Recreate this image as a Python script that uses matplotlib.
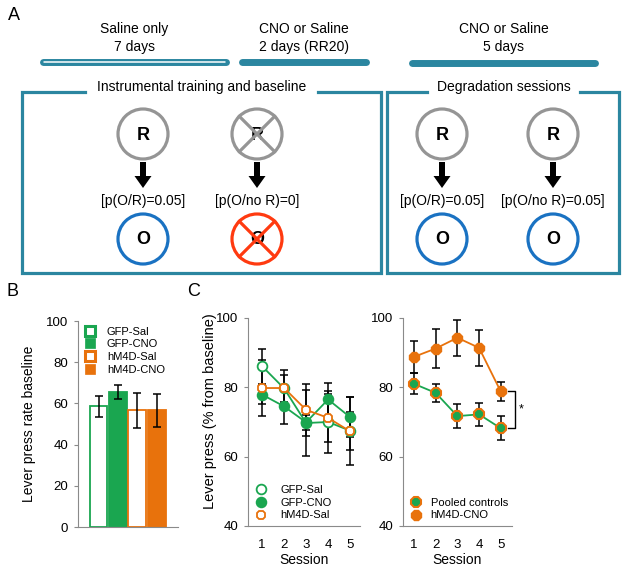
import matplotlib
matplotlib.use('Agg')
import matplotlib.pyplot as plt
from matplotlib.patches import Circle
from matplotlib.lines import Line2D

plt.rcParams['font.family'] = ['Liberation Sans', 'DejaVu Sans']

W, H = 629, 573

GREEN  = "#1aa650"
ORANGE = "#e8720c"
TEAL   = "#2b86a0"
BLUE   = "#1a72c2"
RED    = "#ff3a10"
GRAY   = "#959595"
AXCOL  = "#8a8a8a"

# panel B
bar_groups = ["GFP-Sal", "GFP-CNO", "hM4D-Sal", "hM4D-CNO"]
bar_means  = [58.5, 65.5, 56.6, 56.6]
bar_sem    = [5.0, 3.5, 8.3, 8.0]

# panel C
sessions     = [1, 2, 3, 4, 5]
gfp_sal      = [86.1, 79.7, 69.7, 70.0, 67.5]
gfp_sal_err  = [5.1, 4.0, 9.6, 9.0, 5.5]
gfp_cno      = [77.9, 74.5, 69.9, 76.5, 71.4]
gfp_cno_err  = [2.8, 5.0, 2.2, 4.8, 5.8]
hm4d_sal     = [79.8, 79.8, 73.5, 71.2, 67.3]
hm4d_sal_err = [8.0, 5.3, 7.4, 7.0, 9.8]

pooled       = [81.0, 78.4, 71.7, 72.2, 68.2]
pooled_err   = [3.0, 2.5, 3.4, 3.4, 3.5]
hm4d_cno     = [88.8, 91.2, 94.3, 91.4, 78.8]
hm4d_cno_err = [4.7, 5.5, 5.2, 5.2, 2.7]


def px_axes(fig, x0, y0, x1, y1):
    return fig.add_axes([x0 / W, 1 - y1 / H, (x1 - x0) / W, (y1 - y0) / H])


def style_axis(ax):
    for s in ("top", "right"):
        ax.spines[s].set_visible(False)
    for s in ("left", "bottom"):
        ax.spines[s].set_color(AXCOL)
        ax.spines[s].set_linewidth(0.8)
    ax.tick_params(axis="y", length=3, width=0.8, color=AXCOL, labelsize=9.5, pad=4)
    ax.tick_params(axis="x", length=0, labelsize=9.5, pad=9)


def draw_schematic(ax):
    ax.set_xlim(0, W)
    ax.set_ylim(H, 0)
    ax.axis("off")

    ax.text(14, 15, "A", fontsize=13, ha="center", va="center")
    ax.text(12, 292, "B", fontsize=13, ha="center", va="center")
    ax.text(194, 292, "C", fontsize=13, ha="center", va="center")

    # timeline bars
    for (x0, x1, y), lines in zip(
            [(40, 229, 62), (239, 369, 62), (409, 598, 63)],
            [("Saline only", "7 days"), ("CNO or Saline", "2 days (RR20)"),
             ("CNO or Saline", "5 days")]):
        ax.plot([x0 + 3, x1 - 3], [y, y], color=TEAL, lw=5, solid_capstyle="round")
        xc = (x0 + x1) / 2
        ax.text(xc, 29, lines[0], fontsize=10, ha="center", va="center")
        ax.text(xc, 47, lines[1], fontsize=10, ha="center", va="center")
    ax.plot([44, 225], [62, 62], color="white", lw=1.1, solid_capstyle="round")

    # boxes
    for (l, r, t, b, g0, g1, title) in [
            (22, 381, 92, 273, 85, 318, "Instrumental training and baseline"),
            (387, 619, 92, 273, 427, 580, "Degradation sessions")]:
        ax.plot([g0, l, l, r, r, g1], [t, t, b, b, t, t], color=TEAL, lw=2.3,
                solid_joinstyle="miter")
        ax.text((g0 + g1) / 2, 87, title, fontsize=10, ha="center", va="center")

    def node(x, y, letter, col, cross=None):
        ax.text(x, y + 1, letter, fontsize=13, fontweight="bold", ha="center",
                va="center", zorder=2)
        ax.add_patch(Circle((x, y), 25, fill=False, ec=col, lw=2.3, zorder=3))
        if cross:
            d = 25 * 0.7071
            ax.plot([x - d, x + d], [y - d, y + d], color=cross, lw=2.3, zorder=4)
            ax.plot([x - d, x + d], [y + d, y - d], color=cross, lw=2.3, zorder=4)

    def arrow(x):
        ax.arrow(x, 162, 0, 26, width=6, head_width=17, head_length=12,
                 length_includes_head=True, color="black", lw=0)

    for x, rlab, cross_r, cross_o, prob in [
            (143, "R", None, None, "[p(O/R)=0.05]"),
            (257, "R", GRAY, RED, "[p(O/no R)=0]"),
            (442, "R", None, None, "[p(O/R)=0.05]"),
            (553, "R", None, None, "[p(O/no R)=0.05]")]:
        node(x, 134, rlab, GRAY, cross_r)
        node(x, 239, "O", RED if cross_o else BLUE, cross_o)
        arrow(x)
        ax.text(x, 201, prob, fontsize=10, ha="center", va="center")


def draw_bars(fig):
    ax = px_axes(fig, 78, 321, 178, 527)
    style_axis(ax)
    pos = range(len(bar_groups))
    faces = ["white", GREEN, "white", ORANGE]
    edges = [GREEN, GREEN, ORANGE, ORANGE]
    ax.bar(pos, bar_means, width=0.93, color=faces, edgecolor=edges, linewidth=1.3)
    ax.errorbar(pos, bar_means, yerr=bar_sem, fmt="none", ecolor="black",
                elinewidth=1.1, capsize=3, capthick=1.1)
    ax.set_xlim(-1.06, 4.11)
    ax.set_ylim(0, 100)
    ax.set_yticks([0, 20, 40, 60, 80, 100])
    ax.set_xticks([])
    ax.set_ylabel("Lever press rate baseline", fontsize=10)
    ax.yaxis.set_label_coords(-0.42, 0.5)

    handles = []
    for f, e in zip(faces, edges):
        handles.append(Line2D([], [], ls="none", marker="s", markersize=6.5,
                              markerfacecolor=f, markeredgecolor=e,
                              markeredgewidth=2.2 if f == "white" else 0.5))
    ax.legend(handles, bar_groups, loc="upper left", bbox_to_anchor=(0.01, 1.0),
              frameon=False, fontsize=8, handlelength=1, handletextpad=1.0,
              labelspacing=0.25, borderpad=0)


def draw_left_lines(fig):
    ax = px_axes(fig, 248, 318, 360, 526)
    style_axis(ax)
    series = [
        (gfp_sal, gfp_sal_err, GREEN, "white", "o", "GFP-Sal"),
        (gfp_cno, gfp_cno_err, GREEN, GREEN, "o", "GFP-CNO"),
        (hm4d_sal, hm4d_sal_err, ORANGE, "white", "8", "hM4D-Sal"),
    ]
    for y, e, col, face, mk, lab in series:
        ax.errorbar(sessions, y, yerr=e, fmt="none", ecolor="black",
                    elinewidth=1.1, capsize=3, capthick=1.1, zorder=2)
    for y, e, col, face, mk, lab in series:
        ax.plot(sessions, y, color=col, lw=1.3, marker=mk, markersize=7,
                markerfacecolor=face, markeredgecolor=col, markeredgewidth=1.3,
                label=lab, zorder=3)
    ax.set_xlim(0.36, 5.45)
    ax.set_ylim(40, 100)
    ax.set_yticks([40, 60, 80, 100])
    ax.set_xticks(sessions)
    ax.set_xlabel("Session", fontsize=10, labelpad=2)
    ax.set_ylabel("Lever press (% from baseline)", fontsize=10.5)
    ax.yaxis.set_label_coords(-0.28, 0.55)
    leg = ax.legend(loc="lower left", bbox_to_anchor=(0.02, 0.0), frameon=False,
                    fontsize=8, handlelength=1, handletextpad=1.2,
                    labelspacing=0.25, borderpad=0)
    for h in leg.legend_handles:
        h.set_linestyle("none")


def draw_right_lines(fig):
    ax = px_axes(fig, 403, 318, 512, 526)
    style_axis(ax)
    ax.errorbar(sessions, hm4d_cno, yerr=hm4d_cno_err, fmt="none", ecolor="black",
                elinewidth=1.1, capsize=3, capthick=1.1, zorder=2)
    ax.errorbar(sessions, pooled, yerr=pooled_err, fmt="none", ecolor="black",
                elinewidth=1.1, capsize=3, capthick=1.1, zorder=2)
    ax.plot(sessions, pooled, color=GREEN, lw=1.3, marker="8", markersize=7.5,
            markerfacecolor=GREEN, markeredgecolor=ORANGE, markeredgewidth=1.5,
            label="Pooled controls", zorder=3)
    ax.plot(sessions, hm4d_cno, color=ORANGE, lw=1.3, marker="8", markersize=7.5,
            markerfacecolor=ORANGE, markeredgecolor=ORANGE,
            label="hM4D-CNO", zorder=3)
    ax.set_xlim(0.49, 5.52)
    ax.set_ylim(40, 100)
    ax.set_yticks([40, 60, 80, 100])
    ax.set_xticks(sessions)
    ax.set_xlabel("Session", fontsize=10, labelpad=2)

    # significance bracket at last session
    y_top, y_bot = hm4d_cno[-1], pooled[-1]
    ax.plot([5.34, 5.66, 5.66, 5.34], [y_top, y_top, y_bot, y_bot],
            color="black", lw=1.0, clip_on=False)
    ax.text(5.95, (y_top + y_bot) / 2, "*", fontsize=9, ha="center", va="center")

    leg = ax.legend(loc="lower left", bbox_to_anchor=(0.02, 0.0), frameon=False,
                    fontsize=8, handlelength=1, handletextpad=0.8,
                    labelspacing=0.25, borderpad=0)
    for h in leg.legend_handles:
        h.set_linestyle("none")


def main():
    fig = plt.figure(figsize=(W / 100, H / 100), dpi=100)
    ax_a = fig.add_axes([0, 0, 1, 1])
    draw_schematic(ax_a)
    draw_bars(fig)
    draw_left_lines(fig)
    draw_right_lines(fig)
    fig.savefig("out.png", dpi=100)
    plt.close()


if __name__ == "__main__":
    main()
